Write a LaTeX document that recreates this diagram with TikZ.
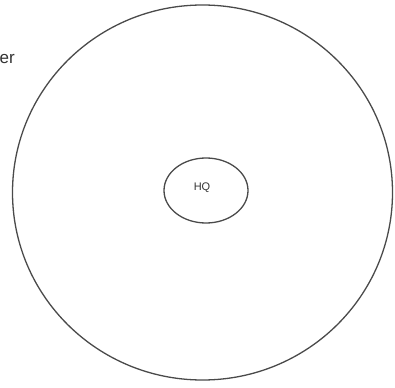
\documentclass[tikz,border=0pt]{standalone}
\usepackage{fontspec}
\setmainfont{Liberation Sans}
\usepackage{xcolor}
\usetikzlibrary{shapes.geometric,positioning}
\definecolor{LN}{HTML}{4A4A4A}
\definecolor{TX}{HTML}{333333}

\begin{document}
\begin{tikzpicture}[x=1pt,y=-1pt,
    ring/.style={draw=LN, line width=1.3pt, ellipse, inner sep=0pt},
    lbl/.style={text=TX, inner sep=0pt}]
    \useasboundingbox (0,0) rectangle (395,387);
    % outer zone
    \node[ring, minimum width=380pt, minimum height=375pt] (zone) at (202.5,192.5) {};
    % headquarters
    \node[ring, minimum width=84pt, minimum height=65pt] (hq) at (206,190.5) {};
    \node[lbl, font=\fontsize{11}{11}\selectfont] (hqtext) at (202,187.5) {HQ};
    % cut-off label at the left edge
    \node[lbl, anchor=east, font=\fontsize{17}{17}\selectfont] (edge) at (15,59.5) {er};
  \end{tikzpicture}
\end{document}
